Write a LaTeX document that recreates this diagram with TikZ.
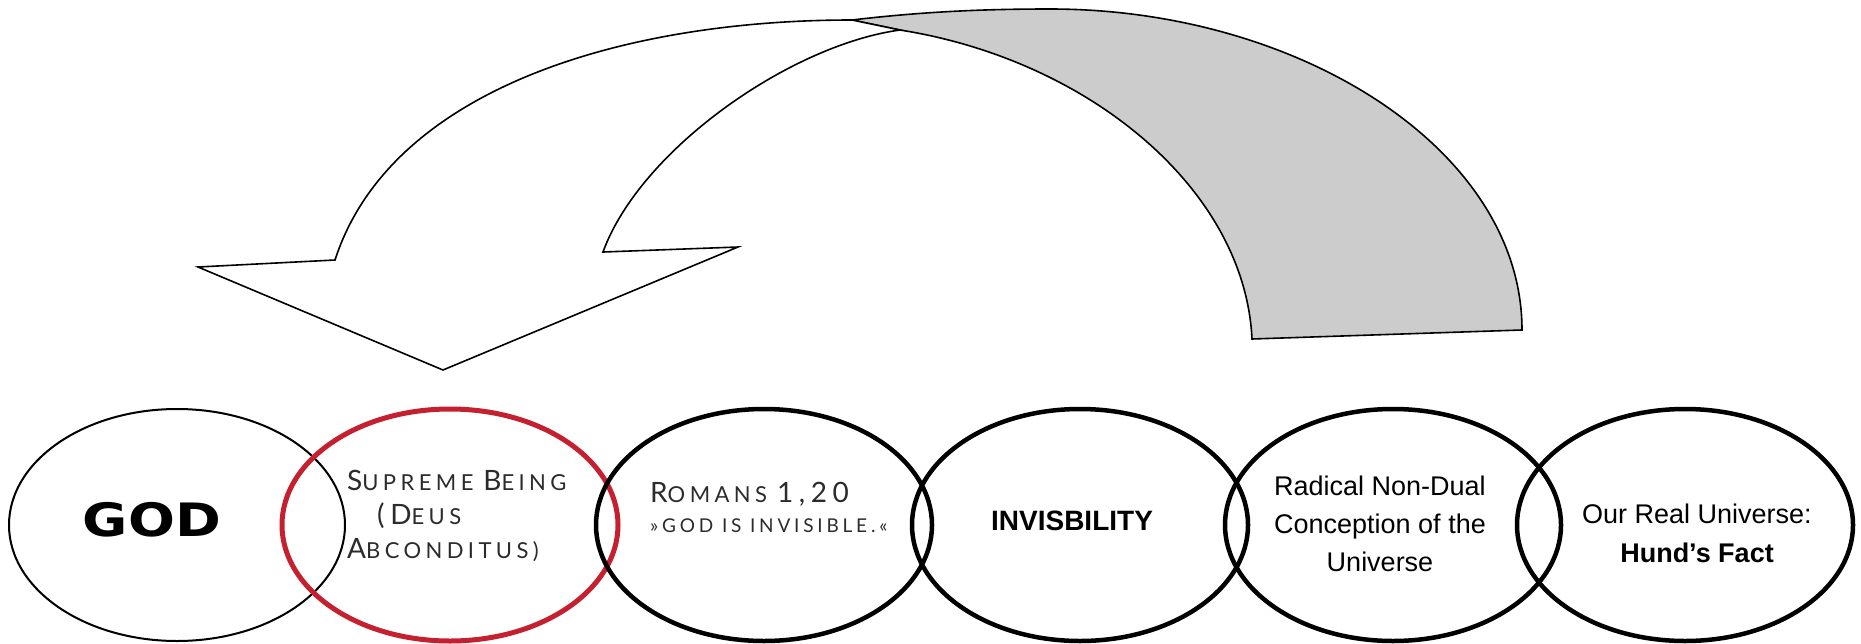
\documentclass[tikz,border=0pt]{standalone}
\usepackage{fontspec}
\setmainfont{Liberation Sans}
\newfontfamily\godfont{DejaVu Sans}
\newfontfamily\capfont{Lato}[LetterSpace=20]
\usetikzlibrary{shapes.geometric}
\definecolor{RingRed}{HTML}{C42030}
\definecolor{BackGray}{HTML}{CCCCCC}
\definecolor{CapText}{HTML}{2B2B2B}
% fake small caps: big first letter, smaller rest
\newcommand{\bigsc}[2]{{\fontsize{28}{30}\selectfont #1}{\fontsize{22}{30}\selectfont #2}}

\begin{document}
\begin{tikzpicture}[x=1pt,y=-1pt,
    ring/.style={ellipse, draw=black, line width=4.5pt, minimum width=336pt,
      minimum height=232pt, inner sep=0pt},
    capstyle/.style={font=\capfont\fontsize{22}{30}\selectfont, text=CapText,
      inner sep=0pt},
    plain/.style={font=\fontsize{27}{38}\selectfont, inner sep=0pt, align=center}]
  \useasboundingbox (0,0) rectangle (1861,643);

  % back side of the ribbon
  \filldraw[fill=BackGray, line width=1.6pt, line join=miter]
  (852,20) .. controls (920,12) and (980,9) .. (1050,9)
  .. controls (1300,9) and (1522,150) .. (1522,330)
  -- (1252,339) .. controls (1245,190) and (1090,60) .. (900,30) -- cycle;

  % front side with the head
  \filldraw[fill=white, line width=1.6pt, line join=miter]
  (335,260) .. controls (390,90) and (620,20) .. (852,20)
  -- (900,30) .. controls (790,45) and (640,150) .. (603,252)
  -- (738,247) -- (443,370) -- (198,267) -- cycle;

  % the chain of rings
  \node[ring, line width=2pt] (god) at (177,525) {};
  \node[ring, draw=RingRed, line width=5pt] (supreme) at (450,525) {};
  \node[ring] (romans) at (764,525) {};
  \node[ring] (invis) at (1080,525) {};
  \node[ring] (radical) at (1393,525) {};
  \node[ring] (hund) at (1685,525) {};

  \node[font=\godfont\bfseries\fontsize{46}{50}\selectfont, inner sep=0pt]
  (godtxt) at (152,520) {\scalebox{1.2}[1]{GOD}};

  \node[capstyle, font=\capfont\fontsize{22}{34}\selectfont, align=left,
    anchor=north west] (suptxt) at (347,470)
  {\bigsc{S}{UPREME} \bigsc{B}{EING}\\
    \hspace*{30pt}\bigsc{(D}{EUS}\\
    \bigsc{A}{BCONDITUS)}};

  \node[capstyle, align=left, anchor=north west] (romtxt) at (650,482)
  {\bigsc{R}{OMANS} {\fontsize{28}{30}\selectfont 1,20}\\
    {\fontsize{19}{30}\selectfont »GOD IS INVISIBLE.«}};

  \node[font=\bfseries\fontsize{28}{32}\selectfont, anchor=base, inner sep=0pt]
  (invistxt) at (1072,530) {INVISBILITY};

  \node[plain] (radtxt) at (1380,524)
  {Radical Non-Dual\\Conception of the\\Universe};

  \node[plain, font=\fontsize{27}{39}\selectfont] (hundtxt) at (1697,533)
  {Our Real Universe:\\\textbf{Hund’s Fact}};
\end{tikzpicture}
\end{document}
